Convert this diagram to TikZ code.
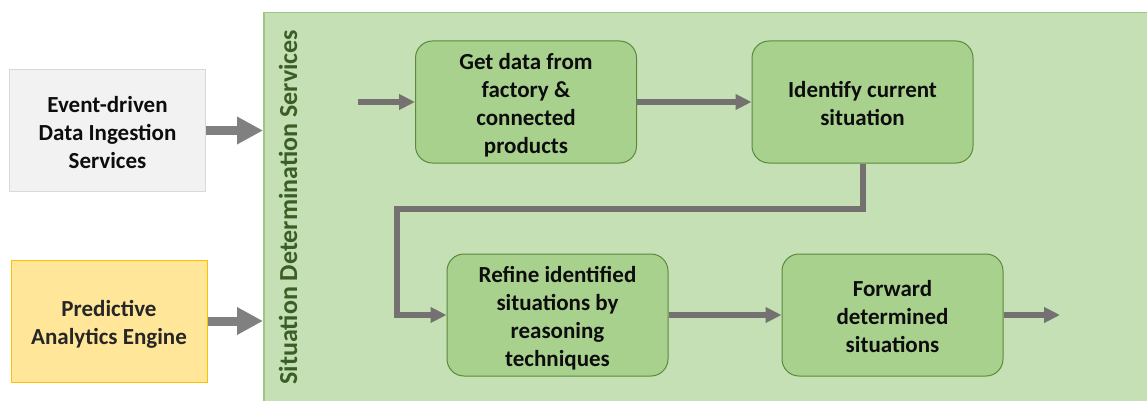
\documentclass[tikz,border=0pt]{standalone}
\usepackage{fontspec}
\setmainfont{Carlito}
\usetikzlibrary{arrows.meta}

\definecolor{panelfill}{HTML}{C5E0B4}
\definecolor{panelline}{HTML}{9CC77F}
\definecolor{stepfill}{HTML}{A9D18E}
\definecolor{stepline}{HTML}{5A8A3C}
\definecolor{labelgreen}{HTML}{3B5E27}
\definecolor{srcgrey}{HTML}{F2F2F2}
\definecolor{srcgreyline}{HTML}{D9D9D9}
\definecolor{srcyellow}{HTML}{FFE699}
\definecolor{srcyellowline}{HTML}{FFC000}
\definecolor{bigarrowgrey}{HTML}{808080}
\definecolor{flowgrey}{HTML}{767171}

% fixed line metrics so every box centres its lines the same way
\newcommand{\topln}{\rule{0pt}{24pt}}
\newcommand{\botln}{\rule[-5pt]{0pt}{5pt}}

\tikzset{
  txt/.style={font=\fontsize{23}{28}\selectfont\bfseries, align=center, text=black!95},
  source/.style={txt, draw, line width=1pt, minimum width=196pt, minimum height=121pt, inner sep=0pt},
  stepbox/.style={txt, draw=stepline, fill=stepfill, line width=1pt, rounded corners=17pt,
    minimum width=221pt, minimum height=122pt, inner sep=0pt},
  bigarrow/.style={draw=bigarrowgrey, line width=9pt, -{Triangle[length=26pt,width=26pt]}},
  flow/.style={draw=flowgrey, line width=6pt, -{Triangle[length=16pt,width=15pt]}},
}

\begin{document}
\begin{tikzpicture}[x=1pt,y=-1pt]
\useasboundingbox (0,0) rectangle (1147,401);

% services panel
\node[draw=panelline, fill=panelfill, line width=1.5pt, minimum width=900pt, minimum height=400pt,
      anchor=north west, inner sep=0pt] (sds) at (263,12) {};
\node[rotate=90, anchor=base west, text=labelgreen, font=\fontsize{26}{30}\selectfont\bfseries]
      (sdslabel) at (297,388) {Situation Determination Services};

% input sources
\node[source, draw=srcgreyline, fill=srcgrey] (ev) at (107.5,130.5)
      {\topln Event-driven\\Data Ingestion\\Services\botln};
\node[source, draw=srcyellowline, fill=srcyellow, text=black!85, minimum height=122pt] (pa) at (109,321)
      {\topln Predictive\\Analytics Engine\botln};

\draw[bigarrow] (ev.east) -- (ev.east -| sds.west);
\draw[bigarrow] (pa.east) -- (pa.east -| sds.west);

% processing steps
\node[stepbox] (n1) at (526,102) {\topln Get data from\\factory \&\\connected\\products\botln};
\node[stepbox] (n2) at (862.5,102) {\topln Identify current\\situation\botln};
\node[stepbox] (n3) at (557.5,315) {\topln Refine identified\\situations by\\reasoning\\techniques\botln};
\node[stepbox] (n4) at (892.5,315) {\topln Forward\\determined\\situations\botln};

\coordinate (inflow) at (358,102);
\coordinate (outflow) at (1060,315);

\draw[flow] (inflow) -- (n1.west);
\draw[flow] (n1) -- (n2);
\draw[flow] (n2.south) |- (630,209) -| (397,280) |- (n3.west);
\draw[flow] (n3) -- (n4);
\draw[flow] (n4.east) -- (outflow);
\end{tikzpicture}
\end{document}
